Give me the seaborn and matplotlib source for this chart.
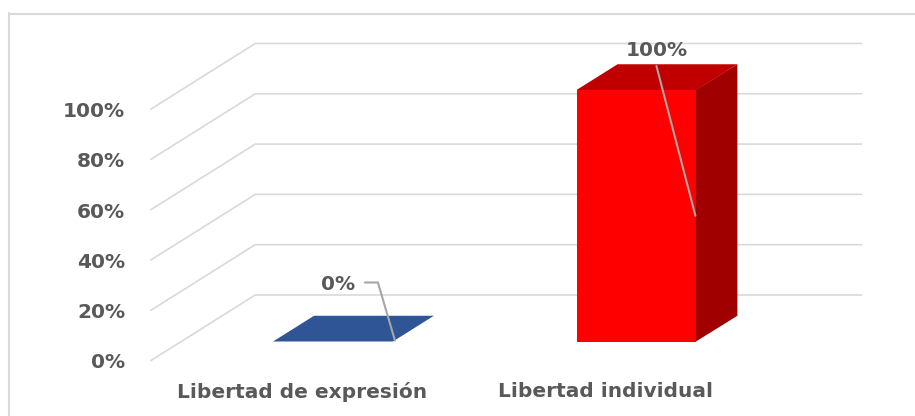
import matplotlib
matplotlib.use("Agg")
import matplotlib.pyplot as plt
from matplotlib.patches import Polygon
from matplotlib.lines import Line2D
import seaborn as sns

# ---- data ----
categories = ["Libertad de expresión", "Libertad individual"]
values = [0.0, 1.0]
tick_values = [0.0, 0.2, 0.4, 0.6, 0.8, 1.0]
tick_labels = ["0%", "20%", "40%", "60%", "80%", "100%"]
value_labels = ["0%", "100%"]

# ---- styles ----
front_colors = ["#2F5597", "#FF0000"]
top_colors = ["#2F5597", "#C00000"]
side_colors = ["#1F3864", "#A00000"]
TEXT = "#595959"
GRID = "#D9D9D9"
LEADER = "#A6A6A6"

sns.set_theme(style="white")
plt.rcParams["font.family"] = ["DejaVu Sans"]

W, H = 915, 416
fig = plt.figure(figsize=(W / 100, H / 100), dpi=100)
ax = fig.add_axes([0, 0, 1, 1])

PXX = 1 / 303.5   # data units per pixel in x
PXY = 1 / 251.5   # data units per pixel in y

# depth vector (front plane -> back plane) in data units
DX, DY = 105 * PXX, 66 * PXY
FRONT = 0.295      # bar front position along depth
BAR_D = 0.39       # bar depth as fraction of full depth

sns.barplot(x=categories, y=values, hue=categories, palette=front_colors,
            width=0.395, saturation=1, legend=False, ax=ax, zorder=3,
            edgecolor="none", linewidth=0)

ax.set_xlim(-333 * PXX, (W - 333) * PXX)
ax.set_ylim(-(H - 341.5) * PXY, 341.5 * PXY)
ax.set_axis_off()

# perspective gridlines (left wall + back wall)
xl, xr = -0.5, 1.5
for v, lab in zip(tick_values, tick_labels):
    fx, fy = xl - FRONT * DX, v - FRONT * DY
    bx, by = xl + (1 - FRONT) * DX, v + (1 - FRONT) * DY
    ex = xr + (1 - FRONT) * DX
    ax.plot([fx, bx, ex], [fy, by, by], color=GRID, lw=1.2, zorder=1,
            solid_capstyle="butt")
    ax.text(fx - 25 * PXX, fy - 2 * PXY, lab, ha="right", va="center",
            fontsize=14.5, fontweight="bold", color=TEXT)

# 3D faces from the bar patches
bdx, bdy = BAR_D * DX, BAR_D * DY
bars = sorted(ax.patches, key=lambda p: p.get_x())
for i, p in enumerate(bars):
    x0 = p.get_x()
    x1 = x0 + p.get_width()
    h = p.get_y() + p.get_height()
    top = Polygon([(x0, h), (x1, h), (x1 + bdx, h + bdy), (x0 + bdx, h + bdy)],
                  closed=True, facecolor=top_colors[i], edgecolor="none", zorder=3)
    ax.add_patch(top)
    if h > 0:
        side = Polygon([(x1 - 0.5 * PXX, 0), (x1 - 0.5 * PXX, h), (x1 + bdx, h + bdy), (x1 + bdx, bdy)],
                       closed=True, facecolor=side_colors[i], edgecolor="none", zorder=3)
        ax.add_patch(side)

    # data labels with leader lines
    if h == 0:
        tx, ty = x1 - 38 * PXX, h + 57 * PXY
        ax.text(tx, ty, value_labels[i], ha="right", va="center",
                fontsize=14.5, fontweight="bold", color=TEXT, zorder=5)
        ax.plot([x1 - 28 * PXX, x1 - 15 * PXX, x1 + 2 * PXX],
                [ty + 2 * PXY, ty + 2 * PXY, h + 1 * PXY],
                color=LEADER, lw=1.5, zorder=4)
    else:
        tx, ty = x1 - 40 * PXX, h + 40 * PXY
        ax.text(tx, ty, value_labels[i], ha="center", va="center",
                fontsize=14.5, fontweight="bold", color=TEXT, zorder=5)
        ax.plot([tx, x1 - 1 * PXX], [h + 24 * PXY, h * 0.5],
                color=LEADER, lw=1.5, zorder=4)

    # category label
    cx = (x0 + x1) / 2 - FRONT * DX
    ax.text(cx, -50 * PXY, categories[i], ha="center", va="center",
            fontsize=14.5, fontweight="bold", color=TEXT)

# chart border
fig.add_artist(Line2D([8.5 / W, 8.5 / W], [0, 1 - 13 / H], transform=fig.transFigure,
                      color=GRID, lw=1.5))
fig.add_artist(Line2D([8.5 / W, 1], [1 - 13.5 / H, 1 - 13.5 / H], transform=fig.transFigure,
                      color=GRID, lw=1.5))

fig.savefig("out.png", dpi=100)
